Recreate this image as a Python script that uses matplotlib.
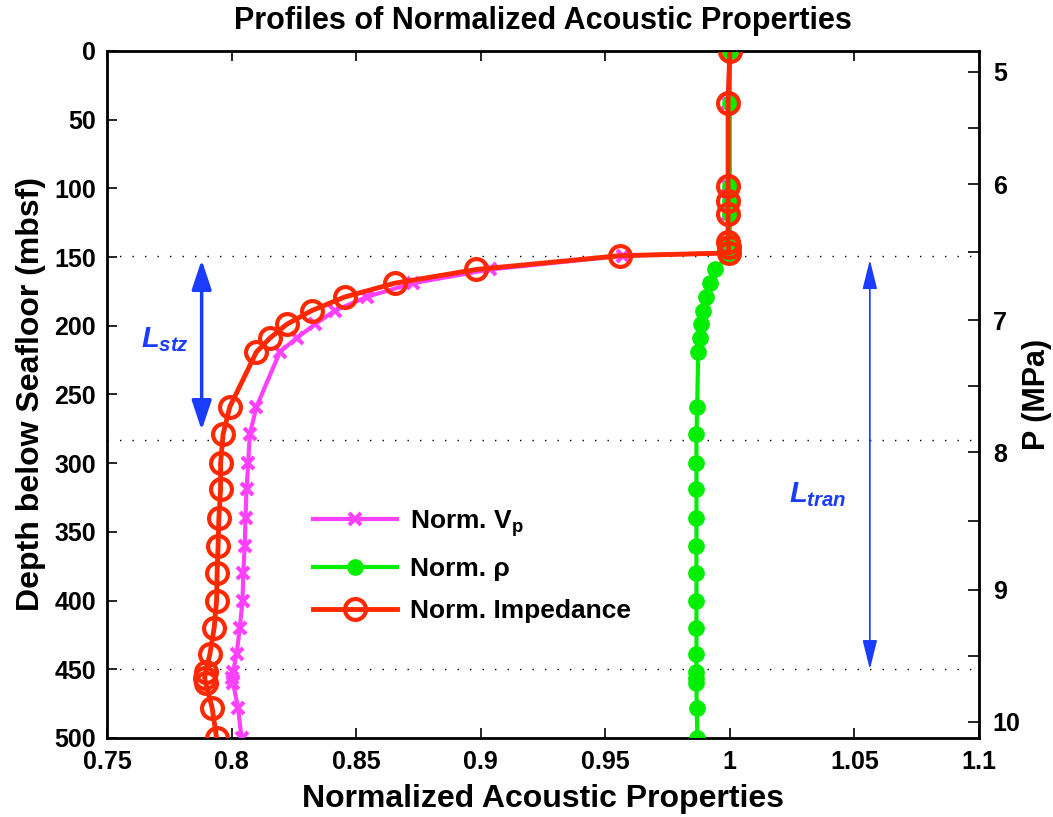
import matplotlib.pyplot as plt

plt.rcParams['font.family'] = ['Liberation Sans', 'DejaVu Sans']
plt.rcParams['font.weight'] = 'bold'
plt.rcParams['mathtext.fontset'] = 'custom'
plt.rcParams['mathtext.rm'] = 'Liberation Sans:bold'
plt.rcParams['mathtext.it'] = 'Liberation Sans:bold:italic'
plt.rcParams['mathtext.bf'] = 'Liberation Sans:bold'

# depth below seafloor of each sample (mbsf)
depth = [0, 38, 98, 109, 119, 139, 143, 147, 149, 159, 169, 179, 189, 199, 209,
         219, 259, 279, 300, 319, 340, 360, 380, 400, 420, 439, 452, 456, 460,
         478, 500]

norm_vp = [1.000, 0.9993, 0.9993, 0.9993, 0.9993, 0.9993, 0.9995, 0.9995, 0.957,
           0.9037, 0.8728, 0.8542, 0.8415, 0.8334, 0.8261, 0.8194, 0.8100,
           0.8073, 0.8067, 0.8060, 0.8056, 0.8053, 0.8047, 0.8044, 0.8033,
           0.8020, 0.8006, 0.8003, 0.8006, 0.8026, 0.8040]

norm_rho = [1.000, 1.000, 1.000, 1.000, 1.000, 1.000, 1.001, 1.001, 0.9995,
            0.9940, 0.9920, 0.9904, 0.9893, 0.9886, 0.9880, 0.9873, 0.9869,
            0.9866, 0.9866, 0.9866, 0.9866, 0.9866, 0.9866, 0.9866, 0.9866,
            0.9866, 0.9866, 0.9866, 0.9866, 0.9867, 0.9870]

norm_imp = [1.000, 0.9993, 0.9993, 0.9993, 0.9993, 0.9993, 0.9995, 0.9995, 0.9558,
            0.8983, 0.8655, 0.8455, 0.8321, 0.8221, 0.8154, 0.8100, 0.7993,
            0.7966, 0.7956, 0.7956, 0.7949, 0.7946, 0.7942, 0.7940, 0.7930,
            0.7913, 0.7896, 0.7892, 0.7896, 0.7922, 0.7940]

x_ticks = [0.75, 0.8, 0.85, 0.9, 0.95, 1.0, 1.05, 1.1]
x_tick_labels = ['0.75', '0.8', '0.85', '0.9', '0.95', '1', '1.05', '1.1']
depth_ticks = [0, 50, 100, 150, 200, 250, 300, 350, 400, 450, 500]

# zone boundaries (mbsf)
boundaries = [149, 283, 450]
stz_top, stz_bottom = 152, 276
tran_top, tran_bottom = 152, 450

# pressure scale on the right
p_ticks = [5, 5.5, 6, 6.5, 7, 7.5, 8, 8.5, 9, 9.5, 10]
p_tick_depth = [15, 56, 97, 146, 196, 244, 292, 342, 392, 440, 488]

fig = plt.figure(figsize=(10.53, 8.17), dpi=100)
ax = fig.add_axes([0.1016, 0.0967, 0.8281, 0.8409])

ax.plot(norm_vp, depth, color='#ff40ff', lw=3, marker='x', ms=8, mew=3,
        label='Norm. V$_\\mathregular{p}$', zorder=3)
ax.plot(norm_rho, depth, color='#00ee00', lw=3, marker='o', ms=11,
        label='Norm. ρ', zorder=4)
ax.plot(norm_imp, depth, color='#ff2800', lw=3.5, marker='o', ms=15, mew=3,
        mfc='none', label='Norm. Impedance', zorder=5)

for b in boundaries:
    ax.axhline(b, color='k', lw=1, ls=(0, (1, 8)), zorder=1)

blue = '#1a3cff'
ax.annotate('', xy=(0.788, stz_top), xytext=(0.788, stz_bottom),
            arrowprops=dict(arrowstyle='<|-|>,head_length=1.8,head_width=0.6',
                            color=blue, lw=2.5, shrinkA=0, shrinkB=0))
ax.annotate('', xy=(1.0562, tran_top), xytext=(1.0562, tran_bottom),
            arrowprops=dict(arrowstyle='<|-|>,head_length=1.8,head_width=0.45',
                            color=blue, lw=1.2, shrinkA=0, shrinkB=0))
ax.text(0.7733, 210, '$L_{stz}$', color=blue, fontsize=21, ha='center', va='center')
ax.text(1.0353, 323, '$L_{tran}$', color=blue, fontsize=21, ha='center', va='center')

ax.set_xlim(0.75, 1.1)
ax.set_ylim(500, 0)
ax.set_xticks(x_ticks, x_tick_labels)
ax.set_yticks(depth_ticks)
ax.tick_params(direction='in', length=7, width=1.2, labelsize=18, top=True)
ax.tick_params(axis='x', pad=9)
ax.tick_params(axis='y', pad=8)
for s in ax.spines.values():
    s.set_linewidth(2)

ax.set_xlabel('Normalized Acoustic Properties', fontsize=23, fontweight='bold', labelpad=7)
ax.set_ylabel('Depth below Seafloor (mbsf)', fontsize=23, fontweight='bold', labelpad=6)
ax.set_title('Profiles of Normalized Acoustic Properties', fontsize=22,
             fontweight='bold', pad=16)

ax.legend(loc='upper left', bbox_to_anchor=(0.236, 0.335), frameon=False,
          fontsize=19, handlelength=3.2, handletextpad=0.5, labelspacing=0.7,
          borderpad=0, borderaxespad=0)

axr = ax.twinx()
axr.set_ylim(500, 0)
axr.set_yticks(p_tick_depth)
axr.set_yticklabels([f'{p:g}' if p == int(p) else '' for p in p_ticks])
axr.tick_params(direction='in', length=8, width=1.2, labelsize=18, pad=10)
axr.set_ylabel('P (MPa)', fontsize=22, fontweight='bold', labelpad=1)

fig.savefig('out.png', dpi=100)
